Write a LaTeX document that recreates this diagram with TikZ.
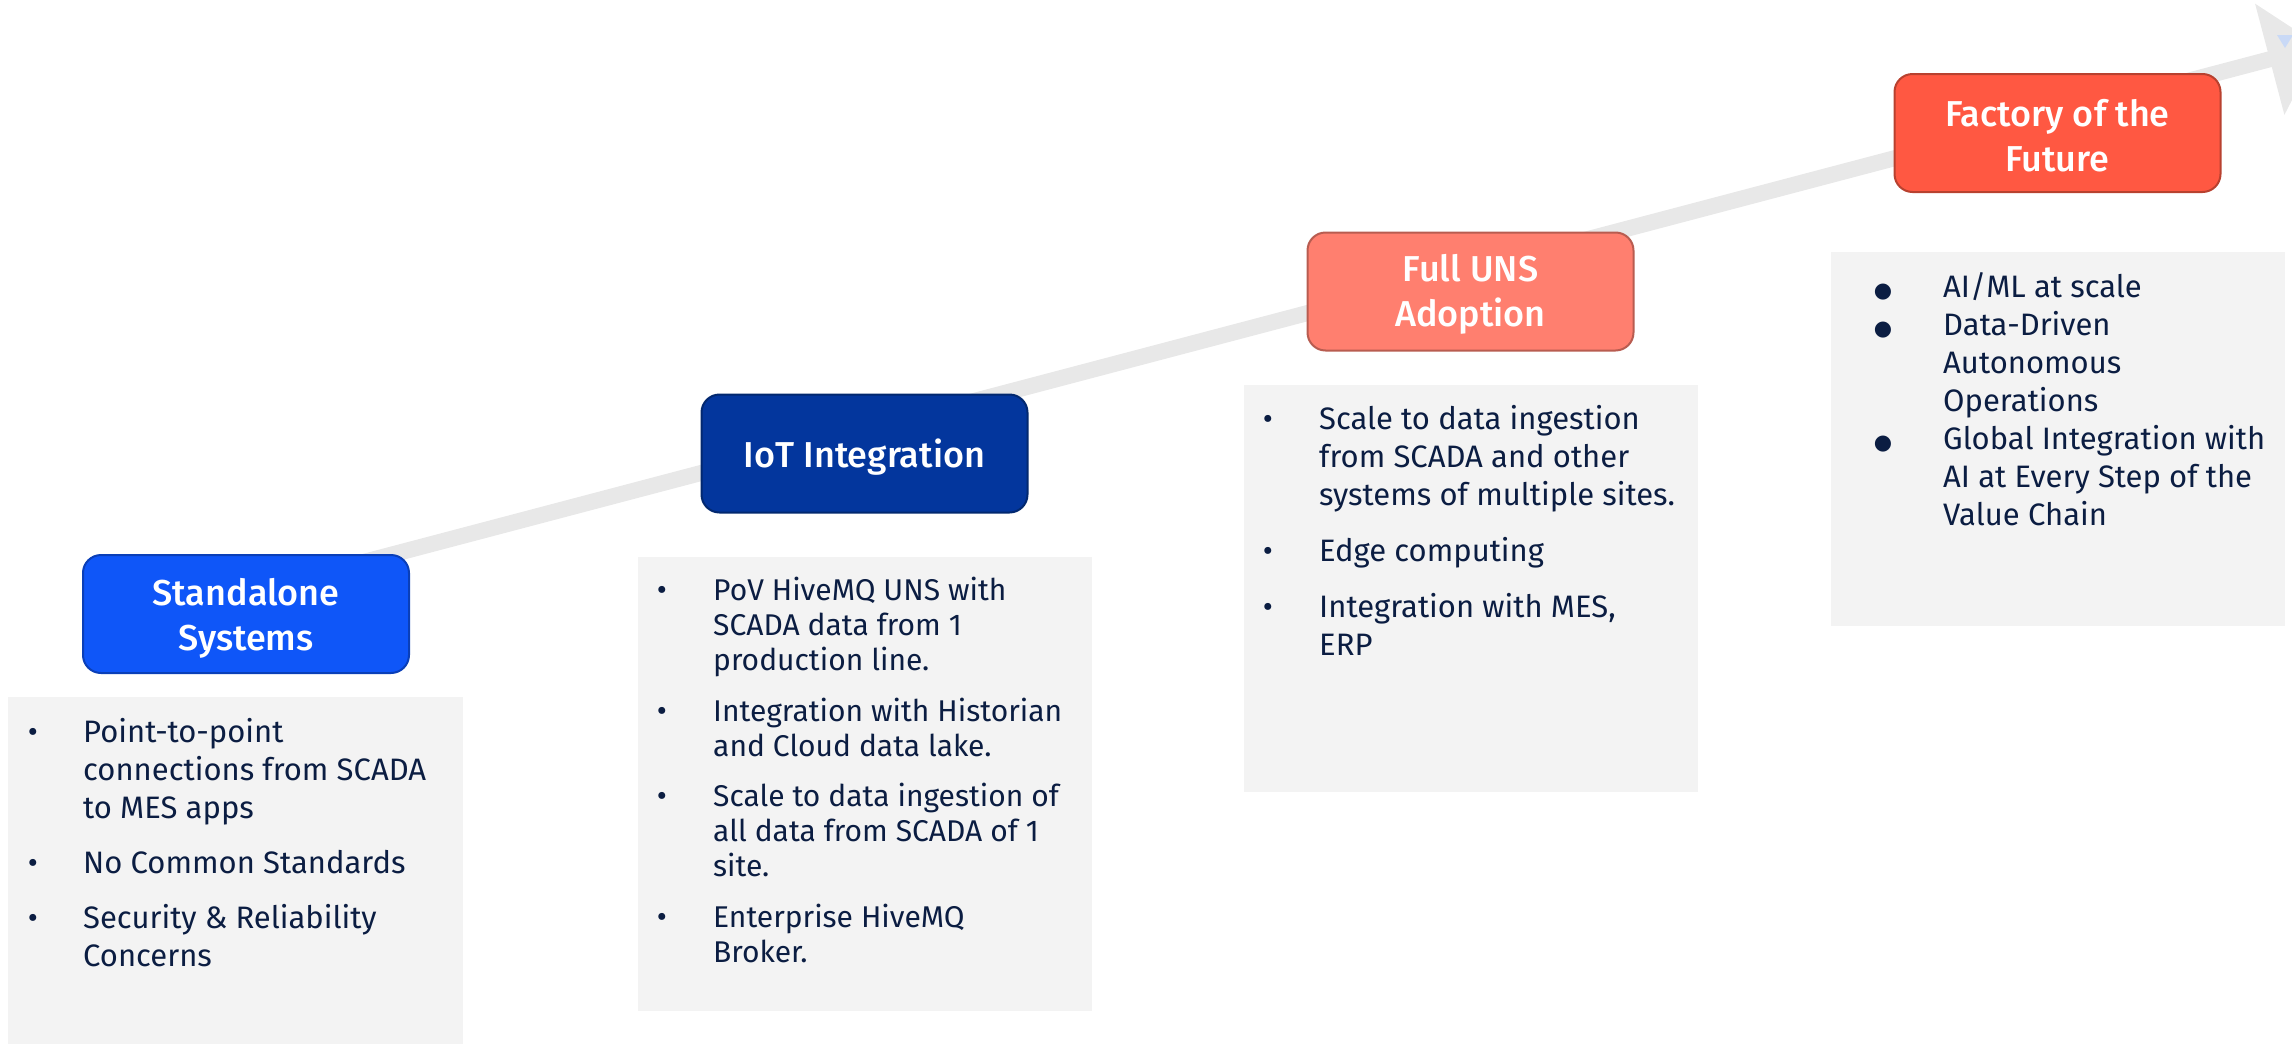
\documentclass[tikz,border=0pt]{standalone}
\usepackage{fontspec}
\setmainfont{Fira Sans}
\newfontfamily\hdrfont{Fira Sans Medium}
\newfontfamily\symfont{DejaVu Sans}
\usetikzlibrary{arrows.meta}
\definecolor{txt}{HTML}{0B1D42}
\definecolor{linegray}{HTML}{E8E8E8}
\definecolor{panelgray}{HTML}{F3F3F3}
\definecolor{blueA}{HTML}{0F56F8}
\definecolor{blueAd}{HTML}{0A3FB8}
\definecolor{blueB}{HTML}{03369D}
\definecolor{blueBd}{HTML}{02286F}
\definecolor{salmon}{HTML}{FF7F6F}
\definecolor{salmond}{HTML}{B85C50}
\definecolor{redC}{HTML}{FF5842}
\definecolor{redCd}{HTML}{B8412F}
\definecolor{tipblue}{HTML}{C9D9F6}
\tikzset{
  hdr/.style={rounded corners=18pt, line width=2pt, inner sep=0pt,
    minimum width=326pt, minimum height=118pt},
  hdrtext/.style={text=white, align=center, inner sep=0pt, font=\hdrfont\fontsize{36}{45}\selectfont},
  panel/.style={fill=panelgray, draw=none},
  item/.style={anchor=base west, inner sep=0pt, align=left, text=txt, font=\fontsize{31}{38}\selectfont},
  itemB/.style={anchor=base west, inner sep=0pt, align=left, text=txt, font=\fontsize{30}{35}\selectfont},
  bul/.style={anchor=base, inner sep=0pt, text=txt, font=\fontsize{31}{38}\selectfont},
  bigbul/.style={anchor=base, inner sep=0pt, text=txt, font=\symfont\fontsize{21}{38}\selectfont},
}
\begin{document}
\begin{tikzpicture}[x=1pt,y=-1pt]
\useasboundingbox (0,0) rectangle (2292,1044);
\clip (0,0) rectangle (2292,1044);

% rising arrow
\coordinate (lstart) at (246,593);
\coordinate (ltip) at (2320,46);
\draw[line width=16pt, linegray, -{Triangle[length=52pt,width=112pt]}] (lstart) -- (ltip);
\fill[tipblue] (2277,35) -- (2293,35) -- (2285,48) -- cycle;

% panels
\fill[panel] (8,697) rectangle (463,1050);
\fill[panel] (638,557) rectangle (1092,1011);
\fill[panel] (1244,385) rectangle (1698,792);
\fill[panel] (1831,252) rectangle (2285,626);

% headers
\node[hdr, fill=blueA, draw=blueAd] (h1) at (246,614) {};
\node[hdrtext] (h1t) at ([yshift=-4pt]h1.center) {Standalone\\Systems};
\node[hdr, fill=blueB, draw=blueBd] (h2) at (864.5,453.5) {};
\node[hdrtext] (h2t) at ([yshift=-4pt]h2.center) {IoT Integration};
\node[hdr, fill=salmon, draw=salmond] (h3) at (1470.5,291.5) {};
\node[hdrtext] (h3t) at ([yshift=-3pt]h3.center) {Full UNS\\Adoption};
\node[hdr, fill=redC, draw=redCd] (h4) at (2057.5,133) {};
\node[hdrtext] (h4t) at ([yshift=-3pt]h4.center) {Factory of the\\Future};

% panel 1 (multi-line nodes are placed by their last baseline)
\node[bul] (b11) at (33,742) {•};
\node[item] (t11) at (83,818) {Point-to-point\\connections from SCADA\\to MES apps};
\node[bul] (b12) at (33,873) {•};
\node[item] (t12) at (83,873) {No Common Standards};
\node[bul] (b13) at (33,928) {•};
\node[item] (t13) at (83,966) {Security \& Reliability\\Concerns};

% panel 2
\node[bul] (b21) at (662,600) {•};
\node[itemB] (t21) at (713,670) {PoV HiveMQ UNS with\\SCADA data from 1\\production line.};
\node[bul] (b22) at (662,721) {•};
\node[itemB] (t22) at (713,756) {Integration with Historian\\and Cloud data lake.};
\node[bul] (b23) at (662,806) {•};
\node[itemB] (t23) at (713,876) {Scale to data ingestion of\\all data from SCADA of 1\\site.};
\node[bul] (b24) at (662,927) {•};
\node[itemB] (t24) at (713,962) {Enterprise HiveMQ\\Broker.};

% panel 3
\node[bul] (b31) at (1268,429) {•};
\node[item] (t31) at (1319,505) {Scale to data ingestion\\from SCADA and other\\systems of multiple sites.};
\node[bul] (b32) at (1268,561) {•};
\node[item] (t32) at (1319,561) {Edge computing};
\node[bul] (b33) at (1268,617) {•};
\node[item] (t33) at (1319,655) {Integration with MES,\\ERP};

% panel 4
\node[bigbul] (b41) at (1883,297) {●};
\node[item] (t41) at (1943,297) {AI/ML at scale};
\node[bigbul] (b42) at (1883,335) {●};
\node[item] (t42) at (1943,411) {Data-Driven\\Autonomous\\Operations};
\node[bigbul] (b43) at (1883,449) {●};
\node[item] (t43) at (1943,525) {Global Integration with\\AI at Every Step of the\\Value Chain};
\end{tikzpicture}
\end{document}
